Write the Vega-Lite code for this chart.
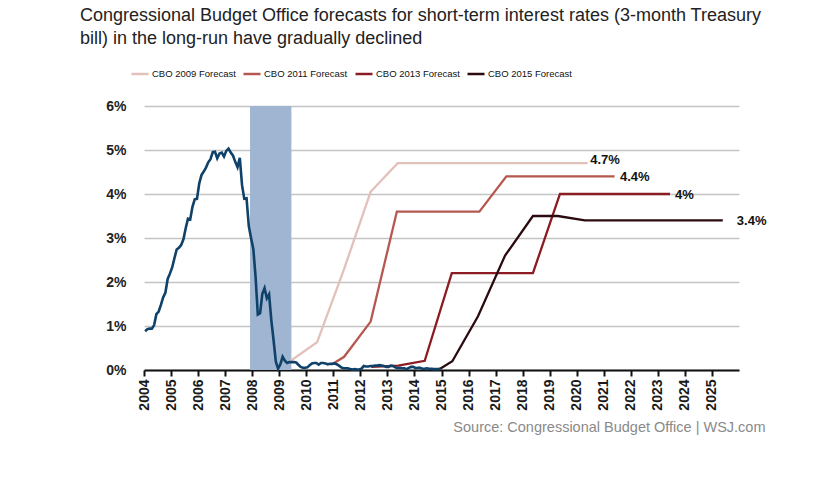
{
  "$schema": "https://vega.github.io/schema/vega-lite/v6.json",
  "width": 595,
  "height": 264,
  "autosize": {"type": "none"},
  "padding": {"left": 144, "top": 106, "right": 100, "bottom": 113},
  "background": "white",
  "title": {
    "text": ["Congressional Budget Office forecasts for short-term interest rates (3-month Treasury", "bill) in the long-run have gradually declined"],
    "anchor": "start",
    "frame": "group",
    "dx": -64,
    "offset": 16,
    "font": "Liberation Sans",
    "fontSize": 18,
    "fontWeight": "normal",
    "color": "#222222",
    "lineHeight": 23
  },
  "config": {
    "view": {"stroke": null},
    "font": "Liberation Sans",
    "axisX": {"labelOverlap": false, "labelBound": false, "labelFlush": false}
  },
  "datasets": {
    "actual": [
      {"t": 2004.042, "rate": 0.88}, {"t": 2004.125, "rate": 0.93}, {"t": 2004.208, "rate": 0.94}, {"t": 2004.292, "rate": 0.94}, {"t": 2004.375, "rate": 1.02}, {"t": 2004.458, "rate": 1.27}, {"t": 2004.542, "rate": 1.33}, {"t": 2004.625, "rate": 1.48}, {"t": 2004.708, "rate": 1.65}, {"t": 2004.792, "rate": 1.76}, {"t": 2004.875, "rate": 2.07}, {"t": 2004.958, "rate": 2.19},
      {"t": 2005.042, "rate": 2.33}, {"t": 2005.125, "rate": 2.54}, {"t": 2005.208, "rate": 2.74}, {"t": 2005.292, "rate": 2.78}, {"t": 2005.375, "rate": 2.84}, {"t": 2005.458, "rate": 2.97}, {"t": 2005.542, "rate": 3.22}, {"t": 2005.625, "rate": 3.44}, {"t": 2005.708, "rate": 3.42}, {"t": 2005.792, "rate": 3.71}, {"t": 2005.875, "rate": 3.88}, {"t": 2005.958, "rate": 3.89},
      {"t": 2006.042, "rate": 4.24}, {"t": 2006.125, "rate": 4.43}, {"t": 2006.208, "rate": 4.51}, {"t": 2006.292, "rate": 4.6}, {"t": 2006.375, "rate": 4.72}, {"t": 2006.458, "rate": 4.79}, {"t": 2006.542, "rate": 4.95}, {"t": 2006.625, "rate": 4.96}, {"t": 2006.708, "rate": 4.81}, {"t": 2006.792, "rate": 4.92}, {"t": 2006.875, "rate": 4.94}, {"t": 2006.958, "rate": 4.85},
      {"t": 2007.042, "rate": 4.98}, {"t": 2007.125, "rate": 5.03}, {"t": 2007.208, "rate": 4.94}, {"t": 2007.292, "rate": 4.87}, {"t": 2007.375, "rate": 4.73}, {"t": 2007.458, "rate": 4.61}, {"t": 2007.542, "rate": 4.82}, {"t": 2007.625, "rate": 4.2}, {"t": 2007.708, "rate": 3.89}, {"t": 2007.792, "rate": 3.9}, {"t": 2007.875, "rate": 3.27}, {"t": 2007.958, "rate": 3.0},
      {"t": 2008.042, "rate": 2.75}, {"t": 2008.125, "rate": 2.12}, {"t": 2008.208, "rate": 1.26}, {"t": 2008.292, "rate": 1.29}, {"t": 2008.375, "rate": 1.73}, {"t": 2008.458, "rate": 1.86}, {"t": 2008.542, "rate": 1.63}, {"t": 2008.625, "rate": 1.72}, {"t": 2008.708, "rate": 1.13}, {"t": 2008.792, "rate": 0.67}, {"t": 2008.875, "rate": 0.19}, {"t": 2008.958, "rate": 0.03},
      {"t": 2009.042, "rate": 0.13}, {"t": 2009.125, "rate": 0.3}, {"t": 2009.208, "rate": 0.21}, {"t": 2009.292, "rate": 0.16}, {"t": 2009.375, "rate": 0.18}, {"t": 2009.458, "rate": 0.18}, {"t": 2009.542, "rate": 0.18}, {"t": 2009.625, "rate": 0.17}, {"t": 2009.708, "rate": 0.12}, {"t": 2009.792, "rate": 0.07}, {"t": 2009.875, "rate": 0.05}, {"t": 2009.958, "rate": 0.05},
      {"t": 2010.042, "rate": 0.06}, {"t": 2010.125, "rate": 0.11}, {"t": 2010.208, "rate": 0.15}, {"t": 2010.292, "rate": 0.16}, {"t": 2010.375, "rate": 0.16}, {"t": 2010.458, "rate": 0.12}, {"t": 2010.542, "rate": 0.16}, {"t": 2010.625, "rate": 0.16}, {"t": 2010.708, "rate": 0.15}, {"t": 2010.792, "rate": 0.13}, {"t": 2010.875, "rate": 0.14}, {"t": 2010.958, "rate": 0.14},
      {"t": 2011.042, "rate": 0.15}, {"t": 2011.125, "rate": 0.13}, {"t": 2011.208, "rate": 0.1}, {"t": 2011.292, "rate": 0.06}, {"t": 2011.375, "rate": 0.04}, {"t": 2011.458, "rate": 0.04}, {"t": 2011.542, "rate": 0.04}, {"t": 2011.625, "rate": 0.02}, {"t": 2011.708, "rate": 0.01}, {"t": 2011.792, "rate": 0.02}, {"t": 2011.875, "rate": 0.01}, {"t": 2011.958, "rate": 0.01},
      {"t": 2012.042, "rate": 0.03}, {"t": 2012.125, "rate": 0.09}, {"t": 2012.208, "rate": 0.08}, {"t": 2012.292, "rate": 0.08}, {"t": 2012.375, "rate": 0.09}, {"t": 2012.458, "rate": 0.09}, {"t": 2012.542, "rate": 0.1}, {"t": 2012.625, "rate": 0.1}, {"t": 2012.708, "rate": 0.11}, {"t": 2012.792, "rate": 0.1}, {"t": 2012.875, "rate": 0.09}, {"t": 2012.958, "rate": 0.07},
      {"t": 2013.042, "rate": 0.07}, {"t": 2013.125, "rate": 0.1}, {"t": 2013.208, "rate": 0.09}, {"t": 2013.292, "rate": 0.06}, {"t": 2013.375, "rate": 0.04}, {"t": 2013.458, "rate": 0.05}, {"t": 2013.542, "rate": 0.04}, {"t": 2013.625, "rate": 0.04}, {"t": 2013.708, "rate": 0.02}, {"t": 2013.792, "rate": 0.05}, {"t": 2013.875, "rate": 0.07}, {"t": 2013.958, "rate": 0.07},
      {"t": 2014.042, "rate": 0.04}, {"t": 2014.125, "rate": 0.05}, {"t": 2014.208, "rate": 0.05}, {"t": 2014.292, "rate": 0.03}, {"t": 2014.375, "rate": 0.03}, {"t": 2014.458, "rate": 0.04}, {"t": 2014.542, "rate": 0.03}, {"t": 2014.625, "rate": 0.03}, {"t": 2014.708, "rate": 0.02}, {"t": 2014.792, "rate": 0.02}, {"t": 2014.875, "rate": 0.02}, {"t": 2014.958, "rate": 0.03}
    ],
    "forecasts": [
      {"series": "CBO 2009 Forecast", "t": 2009.4, "rate": 0.2},
      {"series": "CBO 2009 Forecast", "t": 2010.4, "rate": 0.63},
      {"series": "CBO 2009 Forecast", "t": 2011.4, "rate": 2.3},
      {"series": "CBO 2009 Forecast", "t": 2012.38, "rate": 4.05},
      {"series": "CBO 2009 Forecast", "t": 2013.38, "rate": 4.7},
      {"series": "CBO 2009 Forecast", "t": 2014.4, "rate": 4.7},
      {"series": "CBO 2009 Forecast", "t": 2015.4, "rate": 4.7},
      {"series": "CBO 2009 Forecast", "t": 2016.4, "rate": 4.7},
      {"series": "CBO 2009 Forecast", "t": 2017.4, "rate": 4.7},
      {"series": "CBO 2009 Forecast", "t": 2018.4, "rate": 4.7},
      {"series": "CBO 2009 Forecast", "t": 2019.4, "rate": 4.7},
      {"series": "CBO 2009 Forecast", "t": 2020.4, "rate": 4.7},
      {"series": "CBO 2011 Forecast", "t": 2011.0, "rate": 0.15},
      {"series": "CBO 2011 Forecast", "t": 2011.4, "rate": 0.3},
      {"series": "CBO 2011 Forecast", "t": 2012.38, "rate": 1.1},
      {"series": "CBO 2011 Forecast", "t": 2013.35, "rate": 3.6},
      {"series": "CBO 2011 Forecast", "t": 2014.4, "rate": 3.6},
      {"series": "CBO 2011 Forecast", "t": 2015.4, "rate": 3.6},
      {"series": "CBO 2011 Forecast", "t": 2016.4, "rate": 3.6},
      {"series": "CBO 2011 Forecast", "t": 2017.4, "rate": 4.4},
      {"series": "CBO 2011 Forecast", "t": 2018.4, "rate": 4.4},
      {"series": "CBO 2011 Forecast", "t": 2019.4, "rate": 4.4},
      {"series": "CBO 2011 Forecast", "t": 2020.4, "rate": 4.4},
      {"series": "CBO 2011 Forecast", "t": 2021.4, "rate": 4.4},
      {"series": "CBO 2013 Forecast", "t": 2012.4, "rate": 0.07},
      {"series": "CBO 2013 Forecast", "t": 2013.4, "rate": 0.1},
      {"series": "CBO 2013 Forecast", "t": 2014.38, "rate": 0.21},
      {"series": "CBO 2013 Forecast", "t": 2015.38, "rate": 2.2},
      {"series": "CBO 2013 Forecast", "t": 2016.4, "rate": 2.2},
      {"series": "CBO 2013 Forecast", "t": 2017.4, "rate": 2.2},
      {"series": "CBO 2013 Forecast", "t": 2018.38, "rate": 2.2},
      {"series": "CBO 2013 Forecast", "t": 2019.38, "rate": 4.0},
      {"series": "CBO 2013 Forecast", "t": 2020.4, "rate": 4.0},
      {"series": "CBO 2013 Forecast", "t": 2021.4, "rate": 4.0},
      {"series": "CBO 2013 Forecast", "t": 2022.4, "rate": 4.0},
      {"series": "CBO 2013 Forecast", "t": 2023.45, "rate": 4.0},
      {"series": "CBO 2015 Forecast", "t": 2014.95, "rate": 0.03},
      {"series": "CBO 2015 Forecast", "t": 2015.4, "rate": 0.2},
      {"series": "CBO 2015 Forecast", "t": 2016.35, "rate": 1.22},
      {"series": "CBO 2015 Forecast", "t": 2017.35, "rate": 2.6},
      {"series": "CBO 2015 Forecast", "t": 2018.38, "rate": 3.5},
      {"series": "CBO 2015 Forecast", "t": 2019.3, "rate": 3.5},
      {"series": "CBO 2015 Forecast", "t": 2020.3, "rate": 3.4},
      {"series": "CBO 2015 Forecast", "t": 2021.4, "rate": 3.4},
      {"series": "CBO 2015 Forecast", "t": 2022.4, "rate": 3.4},
      {"series": "CBO 2015 Forecast", "t": 2023.4, "rate": 3.4},
      {"series": "CBO 2015 Forecast", "t": 2024.4, "rate": 3.4},
      {"series": "CBO 2015 Forecast", "t": 2025.4, "rate": 3.4}
    ],
    "labels": [
      {"label": "4.7%", "t": 2020.5, "rate": 4.77},
      {"label": "4.4%", "t": 2021.6, "rate": 4.38},
      {"label": "4%", "t": 2023.63, "rate": 3.98},
      {"label": "3.4%", "t": 2025.92, "rate": 3.38}
    ],
    "recession": [
      {"start": 2007.92, "end": 2009.45}
    ]
  },
  "layer": [
    {
      "data": {"name": "recession"},
      "mark": {"type": "rect", "color": "#9fb5d1"},
      "encoding": {
        "x": {"field": "start", "type": "quantitative"},
        "x2": {"field": "end"}
      }
    },
    {
      "data": {"name": "forecasts"},
      "mark": {"type": "line", "strokeWidth": 2.3},
      "encoding": {
        "x": {"field": "t", "type": "quantitative", "scale": {"domain": [2004, 2026], "nice": false, "zero": false},
          "axis": {
            "values": [2004, 2005, 2006, 2007, 2008, 2009, 2010, 2011, 2012, 2013, 2014, 2015, 2016, 2017, 2018, 2019, 2020, 2021, 2022, 2023, 2024, 2025],
            "tickCount": 40,
            "format": "d",
            "labelOverlap": false,
            "labelAngle": 270,
            "labelAlign": "right",
            "labelBaseline": "middle",
            "labelFontSize": 14,
            "labelFontWeight": "bold",
            "labelColor": "#1a1a1a",
            "labelPadding": 3,
            "domainColor": "#111111",
            "domainWidth": 2,
            "tickColor": "#111111",
            "tickWidth": 2,
            "tickSize": 6,
            "grid": false,
            "title": "Source: Congressional Budget Office  |  WSJ.com",
            "titleFont": "Liberation Sans",
            "titleFontSize": 14.5,
            "titleFontWeight": "normal",
            "titleColor": "#8a8a8a",
            "titleAlign": "right",
            "titleAnchor": "end",
            "titleBaseline": "middle",
            "titleX": 621,
            "titleY": 57
          }
        },
        "y": {"field": "rate", "type": "quantitative", "scale": {"domain": [0, 6], "nice": false},
          "axis": {
            "values": [0, 1, 2, 3, 4, 5, 6],
            "labelExpr": "datum.value + '%'",
            "domain": false,
            "ticks": false,
            "grid": true,
            "gridColor": "#c4c4c4",
            "gridWidth": 1.5,
            "labelFontSize": 14,
            "labelFontWeight": "bold",
            "labelColor": "#222222",
            "labelPadding": 18,
            "title": null
          }
        },
        "color": {
          "field": "series",
          "type": "nominal",
          "scale": {
            "domain": ["CBO 2009 Forecast", "CBO 2011 Forecast", "CBO 2013 Forecast", "CBO 2015 Forecast"],
            "range": ["#e2c1bb", "#b5584f", "#8c1c24", "#2b0b10"]
          },
          "legend": {
            "title": null,
            "orient": "none",
            "legendX": -14,
            "legendY": -42,
            "direction": "horizontal",
            "columns": 4,
            "symbolType": "stroke",
            "symbolSize": 289,
            "symbolStrokeWidth": 2.5,
            "labelFont": "Liberation Sans",
            "labelFontSize": 9.5,
            "labelColor": "#111111",
            "labelOffset": 2,
            "columnPadding": 2
          }
        },
        "detail": {"field": "series"}
      }
    },
    {
      "data": {"name": "actual"},
      "mark": {"type": "line", "color": "#0f4169", "strokeWidth": 2.6},
      "encoding": {
        "x": {"field": "t", "type": "quantitative"},
        "y": {"field": "rate", "type": "quantitative"}
      }
    },
    {
      "mark": {"type": "rule", "color": "#b0b0b0", "strokeWidth": 1.5},
      "encoding": {
        "x": {"datum": 2026}
      }
    },
    {
      "data": {"name": "labels"},
      "mark": {"type": "text", "align": "left", "baseline": "middle", "fontSize": 13, "fontWeight": "bold", "color": "#111111", "font": "Liberation Sans"},
      "encoding": {
        "x": {"field": "t", "type": "quantitative"},
        "y": {"field": "rate", "type": "quantitative"},
        "text": {"field": "label"}
      }
    }
  ]
}
